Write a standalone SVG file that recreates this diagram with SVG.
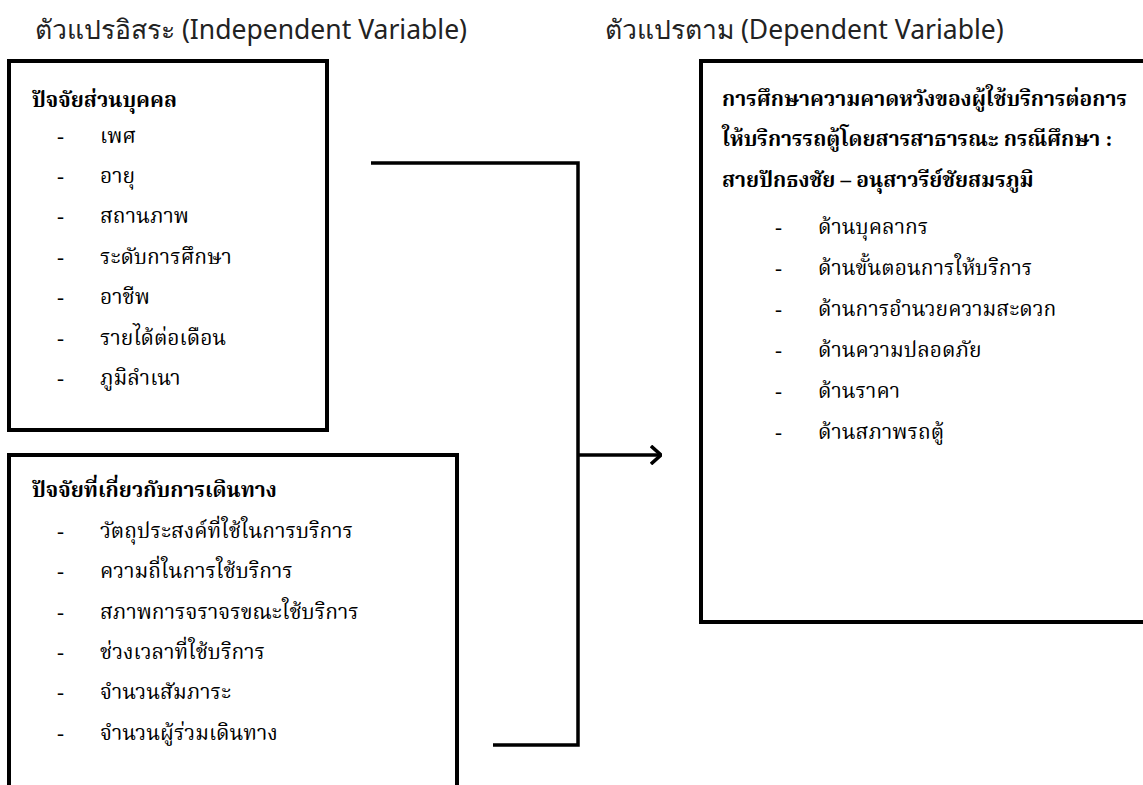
<svg xmlns="http://www.w3.org/2000/svg" width="1143" height="785" viewBox="0 0 1143 785">
  <style>
    .title { font-family: "Noto Sans", "DejaVu Sans", sans-serif; font-size: 26.5px; fill: #222; }
    .body { font-family: "Liberation Serif", "Noto Serif Thai", serif; font-size: 21px; fill: #000; }
    .head { font-weight: bold; }
    .box { fill: #fff; stroke: #000; stroke-width: 4; }
    .wire { fill: none; stroke: #000; stroke-width: 3.5; }
  </style>
  <defs>
    <marker id="chev" viewBox="0 0 12 20" refX="11" refY="10" markerWidth="12" markerHeight="20" markerUnits="userSpaceOnUse" orient="auto">
      <path d="M1,1 L11,10 L1,19" fill="none" stroke="#000" stroke-width="3.5"/>
    </marker>
  </defs>
  <rect width="1143" height="785" fill="#fff"/>

  <text class="title" x="35" y="39">ตัวแปรอิสระ (Independent Variable)</text>
  <text class="title" x="605" y="39">ตัวแปรตาม (Dependent Variable)</text>

  <g id="personal">
    <rect class="box" x="9" y="61" width="318" height="369"/>
    <text class="body head" x="32" y="107">ปัจจัยส่วนบุคคล</text>
    <g class="body">
      <text x="57" y="143">-</text><text x="100" y="143">เพศ</text>
      <text x="57" y="183">-</text><text x="100" y="183">อายุ</text>
      <text x="57" y="223">-</text><text x="100" y="223">สถานภาพ</text>
      <text x="57" y="264">-</text><text x="100" y="264">ระดับการศึกษา</text>
      <text x="57" y="304">-</text><text x="100" y="304">อาชีพ</text>
      <text x="57" y="345">-</text><text x="100" y="345">รายได้ต่อเดือน</text>
      <text x="57" y="385">-</text><text x="100" y="385">ภูมิลำเนา</text>
    </g>
  </g>

  <g id="travel">
    <path class="box" d="M9,795 V455 H457 V795"/>
    <text class="body head" x="32" y="497">ปัจจัยที่เกี่ยวกับการเดินทาง</text>
    <g class="body">
      <text x="57" y="538">-</text><text x="100" y="538">วัตถุประสงค์ที่ใช้ในการบริการ</text>
      <text x="57" y="578">-</text><text x="100" y="578">ความถี่ในการใช้บริการ</text>
      <text x="57" y="619">-</text><text x="100" y="619">สภาพการจราจรขณะใช้บริการ</text>
      <text x="57" y="659">-</text><text x="100" y="659">ช่วงเวลาที่ใช้บริการ</text>
      <text x="57" y="699">-</text><text x="100" y="699">จำนวนสัมภาระ</text>
      <text x="57" y="740">-</text><text x="100" y="740">จำนวนผู้ร่วมเดินทาง</text>
    </g>
  </g>

  <g id="expectation">
    <path class="box" d="M1150,61 H701 V622 H1150" stroke-width="5"/>
    <g class="body head">
      <text x="722" y="106">การศึกษาความคาดหวังของผู้ใช้บริการต่อการ</text>
      <text x="722" y="146">ให้บริการรถตู้โดยสารสาธารณะ กรณีศึกษา :</text>
      <text x="722" y="187">สายปักธงชัย – อนุสาวรีย์ชัยสมรภูมิ</text>
    </g>
    <g class="body">
      <text x="775" y="234">-</text><text x="818" y="234">ด้านบุคลากร</text>
      <text x="775" y="275">-</text><text x="818" y="275">ด้านขั้นตอนการให้บริการ</text>
      <text x="775" y="316">-</text><text x="818" y="316">ด้านการอำนวยความสะดวก</text>
      <text x="775" y="357">-</text><text x="818" y="357">ด้านความปลอดภัย</text>
      <text x="775" y="398">-</text><text x="818" y="398">ด้านราคา</text>
      <text x="775" y="439">-</text><text x="818" y="439">ด้านสภาพรถตู้</text>
    </g>
  </g>

  <g id="connectors">
    <path class="wire" d="M371,163 H578 V745 H493"/>
    <path class="wire" d="M578,455 H661" marker-end="url(#chev)"/>
  </g>
</svg>
